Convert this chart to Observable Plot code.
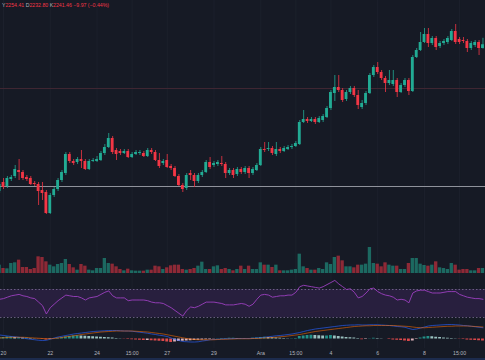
<!DOCTYPE html>
<html><head><meta charset="utf-8">
<script src="https://cdn.jsdelivr.net/npm/d3@7"></script>
<script src="https://cdn.jsdelivr.net/npm/@observablehq/plot@0.6"></script>
<style>
html,body{margin:0;padding:0;background:#161a25;}
#wrap{position:relative;width:485px;height:360px;background:#161a25;overflow:hidden;font-family:"Liberation Sans",sans-serif;}
.pane{position:absolute;left:0;}
#hdr{position:absolute;left:2px;top:2px;font-size:5.2px;line-height:6px;color:#f23645;white-space:nowrap;z-index:5;}
#hdr b{font-weight:normal;color:#b2b5be;}
#foot{position:absolute;left:0;top:358px;width:485px;height:2px;background:#1c2b4d;}
</style></head><body>
<div id="wrap"><div id="hdr"><b>Y</b>2254.41 <b>D</b>2232.80 <b>K</b>2241.46 −9.97 (−0.44%)</div><div id="foot"></div></div>
<script>
// ---- data (4h candles, first at 2023-11-19 23:00) ----
const startTime = "2023-11-19T23:00Z";
const stepHours = 4;
const openP = [1948,1966,1958,1972,1978,1990,1986,1976,1974,1964,
1962,1950,1946,1904,1940,1952,1970,1984,2022,2008,
2006,2012,2008,1992,2008,2008,2010,2024,2036,2054,
2030,2028,2024,2028,2016,2022,2024,2024,2018,2030,
2026,2010,2004,2010,1998,1994,1978,1960,1954,1984,
1980,1968,1980,1986,2006,2000,2002,2004,2002,1984,
1990,1982,1992,1986,1994,1984,1990,2000,2032,2032,
2034,2022,2032,2028,2032,2036,2038,2042,2086,2092,
2088,2092,2086,2090,2096,2114,2144,2156,2150,2132,
2146,2154,2140,2116,2124,2144,2180,2196,2186,2174,
2164,2162,2170,2146,2160,2170,2148,2216,2230,2246,
2262,2244,2254,2238,2244,2246,2250,2268,2252,2250,
2248,2234,2240,2246,2234];
const highP = [1966,1974,1978,1980,2000,2012,1990,1980,1978,1968,
1966,1966,1950,1944,1956,1974,1990,2026,2026,2012,
2016,2030,2012,2012,2014,2018,2028,2042,2064,2058,
2034,2032,2032,2032,2026,2030,2030,2028,2034,2034,
2030,2024,2012,2022,2002,1998,1982,1964,1984,1990,
1984,1984,1990,2010,2016,2008,2010,2018,2006,1994,
1994,1996,1996,1998,1998,1996,2004,2036,2046,2046,
2038,2046,2036,2038,2040,2042,2048,2090,2110,2096,
2096,2096,2098,2102,2118,2150,2180,2180,2154,2150,
2158,2158,2150,2130,2148,2184,2200,2206,2190,2178,
2190,2190,2174,2164,2174,2174,2220,2234,2266,2274,
2274,2258,2258,2248,2252,2258,2272,2282,2256,2256,
2252,2248,2250,2250,2254.41];
const lowP = [1944,1952,1954,1968,1974,1970,1970,1968,1960,1958,
1920,1930,1902,1902,1936,1948,1966,1980,2004,2000,
2002,1994,1990,1990,2006,2006,2008,2020,2034,2022,
2010,2020,2022,2014,2014,2020,2020,2016,2016,2022,
2008,1994,2000,1994,1990,1976,1958,1946,1950,1970,
1956,1964,1976,1984,1992,1996,1998,1998,1974,1980,
1974,1978,1982,1982,1974,1980,1988,1998,2026,2028,
2020,2018,2024,2026,2030,2032,2036,2040,2084,2084,
2086,2082,2084,2086,2094,2110,2128,2146,2126,2128,
2142,2136,2112,2112,2120,2142,2176,2182,2170,2146,
2160,2158,2136,2144,2156,2140,2146,2214,2228,2244,
2236,2240,2230,2234,2240,2242,2248,2242,2242,2244,
2226,2230,2236,2220,2232.80];
const closeP = [1962,1956,1974,1976,1992,1986,1974,1972,1962,1962,
1948,1944,1904,1940,1952,1970,1986,2022,2008,2004,
2012,2008,1992,2008,2010,2012,2024,2036,2054,2026,
2022,2024,2028,2016,2022,2026,2026,2018,2030,2026,
2010,1998,2008,1996,1994,1978,1960,1952,1980,1980,
1968,1980,1986,2006,1996,2004,2006,2002,1984,1990,
1980,1992,1986,1994,1984,1992,2000,2032,2030,2034,
2024,2032,2028,2034,2036,2038,2044,2086,2092,2088,
2092,2086,2094,2098,2114,2146,2156,2150,2130,2146,
2154,2140,2120,2124,2144,2180,2196,2186,2174,2164,
2170,2170,2146,2160,2170,2148,2216,2230,2246,2262,
2244,2254,2236,2244,2248,2254,2268,2246,2246,2248,
2234,2244,2246,2234,2241.46];
const volume = [25,15,14,30,32,40,18,18,12,15,
50,48,35,25,20,27,30,42,27,17,
10,27,22,10,8,15,15,45,30,28,
20,12,8,13,8,7,7,7,10,10,
22,20,12,17,23,25,25,12,10,12,
15,22,34,12,12,20,23,12,15,12,
8,12,22,12,22,12,12,32,25,25,
18,25,8,8,8,10,12,58,20,15,
10,10,15,12,32,27,48,52,38,20,
20,17,25,25,28,78,30,28,20,32,
25,22,22,12,12,30,45,45,28,24,
22,25,35,17,15,12,30,25,10,12,
12,8,8,15,15];
const rsiVals = [56,57,59,61,62,63,61,60,58,57,
52,47,35,44,49,54,58,62,61,60,
60,58,55,58,59,60,63,66,68,61,
58,58,58,54,55,55,55,55,54,52,
51,51,50,47,44,40,36,32,40,45,
44,46,49,52,52,52,51,50,48,48,
48,49,50,49,46,49,56,62,63,62,
59,60,61,61,62,62,66,74,76,75,
74,73,72,74,77,80,83,78,74,70,
71,66,58,60,65,71,72,67,64,62,
61,59,55,56,55,51,65,68,69,69,
67,65,65,65,66,67,67,67,63,61,
59,58,57,57,56];
const macdVals = [8,7,6,5,4.5,3.5,2,0.5,-0.5,-1.5,
-2.5,-3,-2.5,-0.5,2,4,5.5,7,8.5,10,
11,12,13,14,15,15.5,16,16.5,17,17,
17,16.5,16,16,15.5,14.5,13.5,12.5,11.5,10,
9,7.5,6.5,5,2,-1,-3,-5,-5.5,-6,
-6,-5.5,-4,-3,-1.5,-1,-0.5,0,0.5,0.5,
1,1,1,1,1,1.5,2,2.5,3.5,4.5,
5.5,6.5,7,8,9,10,11.5,13,15,17,
18.5,20,21,22,23,24,25,26,27,27.5,
28,28,28.5,28,28,28.5,28.5,28.5,28,27.5,
27,26,25,24.5,23.5,21,19,20,22,24,
26,27,27.5,28,28.5,29,29,28.5,28,27,
26.5,25.5,24.5,23.5,22.5];
const signalVals = [2,2.5,3,3.5,3.5,3.5,3.5,3,2.5,2,
1.5,1,0.5,0.5,1,2,3,4.5,5.5,6.5,
7.5,9,10,11,12,13,14,14.5,15,15.5,
16,16,16,16,16,15.5,15,14.5,14,13,
12,11,10,8.5,7,5.5,4,2.5,1,0,
-1,-1.5,-1.5,-1.5,-1.5,-1.5,-1,-0.5,-0.5,0,
0,0.5,0.5,0.5,0.5,1,1,1.5,2,2.5,
3,3.5,4.5,5,6,7,8,9,10.5,12,
13.5,15,16,17,18,19,20,21,22,23,
24,25,25.5,26,26.5,26.5,27,27,27,27,
27,27,26.5,26,25.5,25,24,23,22.5,22.5,
23,23.5,24,24.5,25,25.5,25.5,26,26,26,
26,25.5,25,24.5,24];
const histVals = [3,3,4,4,3,3,2,2,1,
0.5,-0.5,-1,-2,-1,
0.5,1.5,2.5,4,5,6,6.5,6,5.5,5,4.5,4,3.5,3,2.5,2,
1,0.5,
-0.5,-1,-1.5,-2,-2.5,-3,-3,-3.5,-4,
-4.5,-5,-6,-7,-6,
-5,-4.5,-4,-3.5,-3,-2.5,-2,-1.5,
-1,-0.5,0.5,1,1,1.5,1.5,1,1,
0.5,0.5,
1.5,2,3,3.5,3,2.5,2,1.5,
1,0.5,0.5,1,
5,6,7,7.5,7,6.5,6,6,7,6,5,4,3,2.5,2,
1,-1.5,-1,0.5,1.5,1,0.5,0,
-1,-2,-2.5,-3,-4,-5,-4,
-1,
2,4,5,4.5,3.5,3,
2,1.5,1,0.5,
-0.5,-1,-2,-2.5,-3,-3.5,-4];
const tickDates = ["2023-11-20T03:00Z","2023-11-22T03:00Z","2023-11-24T03:00Z","2023-11-25T15:00Z","2023-11-27T03:00Z","2023-11-29T03:00Z","2023-12-01T03:00Z","2023-12-02T15:00Z","2023-12-04T03:00Z","2023-12-06T03:00Z","2023-12-08T03:00Z","2023-12-09T15:00Z"];
const tickLabels = ["20","22","24","15:00","27","29","Ara","15:00","4","6","8","15:00"];
const refLines = [{price:1958, color:"#8f929b"}, {price:2154, color:"#3f2632"}];

// ---- build ----
const HOUR = 3600e3;
const t0 = +new Date(startTime);
const tAt = i => new Date(t0 + i * stepHours * HOUR);
const UP = "#22ab94", DOWN = "#f23645";
const candles = openP.map((o, i) => ({
  t: tAt(i), o, h: highP[i], l: lowP[i], c: closeP[i], v: volume[i],
  rsi: rsiVals[i], macd: macdVals[i], sig: signalVals[i], hist: histVals[i],
  hp: i > 0 ? histVals[i-1] : histVals[i]
}));
const xDomain = [tAt(0.23), tAt(124.65)];
const W = 485;
const ticks = tickDates.map((d, i) => ({t: new Date(d), label: tickLabels[i]}));
const left = d => new Date(+d.t - 1.45 * HOUR);
const right = d => new Date(+d.t + 1.45 * HOUR);
const base = {width: W, margin: 0, style: {background: "transparent", overflow: "visible"}};
const wrap = document.getElementById("wrap");
function place(svg, top) {
  const d = document.createElement("div");
  d.className = "pane"; d.style.top = top + "px";
  d.appendChild(svg); wrap.appendChild(d);
}

// grid
place(Plot.plot({...base, height: 348, x: {type: "utc", domain: xDomain, axis: null}, y: {domain: [0, 1], axis: null},
  marks: [Plot.ruleX(ticks, {x: "t", stroke: "#1c202c", strokeWidth: 1})]}), 0);

// volume
place(Plot.plot({...base, height: 33, x: {type: "utc", domain: xDomain, axis: null}, y: {domain: [0, 99], axis: null},
  marks: [Plot.rect(candles, {x1: d => new Date(+d.t - 1.7*HOUR), x2: d => new Date(+d.t + 1.7*HOUR), y1: 0, y2: "v",
    fill: d => d.c >= d.o ? UP : DOWN, fillOpacity: 0.55})]}), 240);

// main candles
place(Plot.plot({...base, height: 245, x: {type: "utc", domain: xDomain, axis: null}, y: {domain: [1840, 2330], axis: null},
  marks: [
    Plot.ruleY(refLines, {y: "price", stroke: "color", strokeWidth: 1}),
    Plot.ruleX(candles, {x: "t", y1: "l", y2: "h", stroke: d => d.c >= d.o ? UP : DOWN, strokeWidth: 0.8}),
    Plot.rect(candles, {x1: left, x2: right, y1: "o", y2: "c", fill: d => d.c >= d.o ? UP : DOWN})
  ]}), 0);

// RSI
place(Plot.plot({...base, height: 40, x: {type: "utc", domain: xDomain, axis: null}, y: {domain: [25.71, 82.86], axis: null},
  marks: [
    Plot.rect([0], {x1: () => xDomain[0], x2: () => xDomain[1], y1: 30, y2: 70, fill: "#281f3e"}),
    Plot.ruleY([30, 70], {stroke: "#7c6f96", strokeDasharray: "1.5,2", strokeWidth: 0.8}),
    Plot.line(candles, {x: "t", y: "rsi", stroke: "#9c3fc0", strokeWidth: 0.9})
  ]}), 280);

// MACD
const histColor = d => d.hist >= 0 ? (d.hist >= d.hp ? "#26a69a" : "#b2dfdb") : (d.hist < d.hp ? "#ff5252" : "#ffcdd2");
place(Plot.plot({...base, height: 28, x: {type: "utc", domain: xDomain, axis: null}, y: {domain: [-19, 37], axis: null},
  marks: [
    Plot.rect(candles, {x1: left, x2: right, y1: 0, y2: "hist", fill: histColor, fillOpacity: 0.85}),
    Plot.line(candles, {x: "t", y: "macd", stroke: "#2962ff", strokeWidth: 0.8, strokeOpacity: 0.8}),
    Plot.line(candles, {x: "t", y: "sig", stroke: "#ff6d00", strokeWidth: 0.8, strokeOpacity: 0.7})
  ]}), 320);

// time axis labels
place(Plot.plot({...base, height: 10, x: {type: "utc", domain: xDomain, axis: null}, y: {domain: [0, 1], axis: null},
  marks: [Plot.text(ticks, {x: "t", y: 0.5, text: "label", fill: "#b2b5be", fontSize: 5.2, textAnchor: "middle", fontFamily: "Liberation Sans"})]}), 348);
</script>
</body></html>
